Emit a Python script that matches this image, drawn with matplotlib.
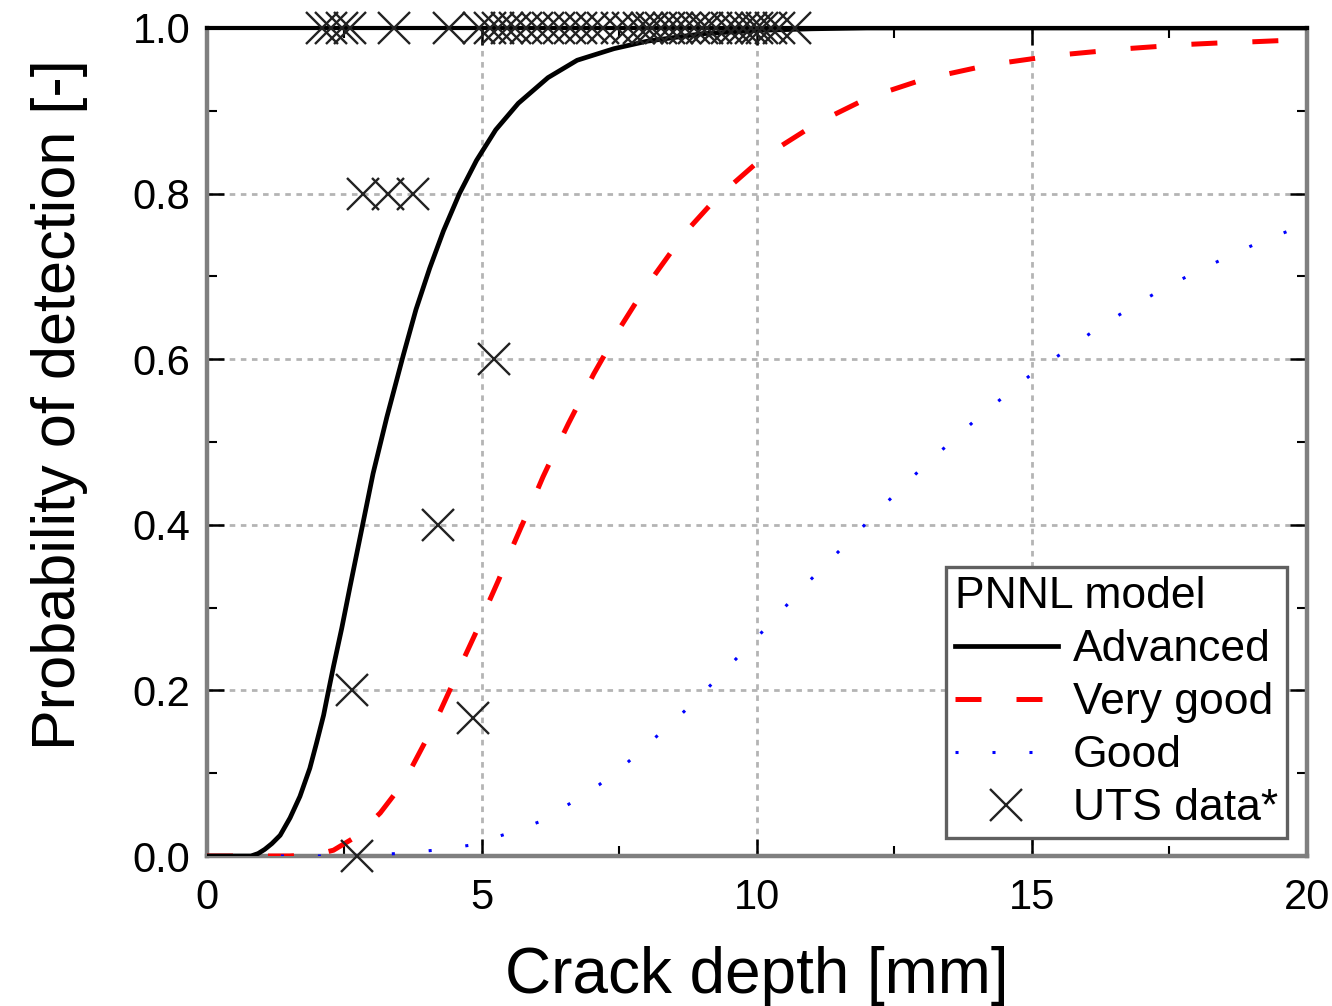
import matplotlib
matplotlib.use("Agg")
import matplotlib.pyplot as plt
from matplotlib.ticker import MultipleLocator

plt.rcParams['font.family'] = ['Liberation Sans', 'DejaVu Sans']

# ---- data ----
adv_x = [0, 0.8, 0.93, 1.05, 1.18, 1.33, 1.51, 1.69, 1.87, 1.99, 2.12, 2.18, 2.30,
         2.45, 2.6, 2.83, 3.02, 3.27, 3.57, 3.8, 4.05, 4.3, 4.59, 4.9, 5.25, 5.66,
         6.2, 6.73, 7.4, 8.0, 9.0, 10.0, 11.0, 12.0, 20.0]
adv_y = [0, 0.0, 0.003, 0.008, 0.015, 0.025, 0.046, 0.072, 0.106, 0.136, 0.17, 0.19, 0.229,
         0.275, 0.325, 0.40, 0.462, 0.53, 0.605, 0.66, 0.71, 0.755, 0.80, 0.84, 0.877, 0.909,
         0.94, 0.961, 0.975, 0.984, 0.993, 0.997, 0.999, 1.0, 1.0]

vg_x = [0, 1.5, 2.0, 2.3, 2.7, 3.15, 3.45, 3.73, 4.0, 4.22, 4.44, 4.66, 4.89, 5.08, 5.3,
        5.5, 5.71, 5.93, 6.11, 6.38, 6.57, 6.84, 7.03, 7.33, 7.51, 7.89, 8.12, 8.5, 8.75,
        9.16, 9.48, 9.96, 10.33, 10.9, 11.3, 11.88, 12.3, 12.94, 13.37, 14.06, 14.49,
        15.13, 15.6, 16.24, 16.72, 17.36, 17.79, 18.43, 18.91, 19.6, 20.0]
vg_y = [0, 0.0, 0.002, 0.007, 0.023, 0.052, 0.078, 0.108, 0.142, 0.172, 0.204, 0.237, 0.27,
        0.30, 0.333, 0.365, 0.397, 0.43, 0.458, 0.496, 0.522, 0.557, 0.582, 0.617, 0.638,
        0.678, 0.70, 0.735, 0.757, 0.787, 0.807, 0.835, 0.853, 0.877, 0.892, 0.911, 0.922,
        0.936, 0.943, 0.953, 0.958, 0.964, 0.968, 0.972, 0.975, 0.978, 0.98, 0.982, 0.983,
        0.985, 0.986]

good_x = [0, 2.5, 3.47, 4.14, 4.78, 5.41, 6.03, 6.59, 7.13, 7.63, 8.10, 8.59, 9.05, 9.5,
          9.96, 10.39, 10.83, 11.28, 11.74, 12.18, 12.63, 13.1, 13.58, 14.06, 14.57,
          15.05, 15.63, 16.16, 16.72, 17.3, 17.88, 18.47, 19.06, 19.67, 20.0]
good_y = [0, 0.0, 0.003, 0.007, 0.013, 0.026, 0.041, 0.063, 0.086, 0.112, 0.14, 0.169,
          0.199, 0.23, 0.261, 0.292, 0.324, 0.354, 0.385, 0.415, 0.445, 0.475, 0.503,
          0.532, 0.559, 0.585, 0.611, 0.636, 0.659, 0.682, 0.702, 0.721, 0.739, 0.755, 0.763]

uts_top_x = [2.1, 2.25, 2.45, 2.6, 3.4, 4.4, 4.95, 5.15, 5.3, 5.45, 5.6, 5.8, 6.0, 6.2,
             6.4, 6.6, 6.8, 7.0, 7.2, 7.45, 7.65, 7.85, 8.0, 8.1, 8.25, 8.4, 8.55, 8.7,
             8.85, 9.0, 9.1, 9.25, 9.45, 9.6, 9.75, 9.9, 10.0, 10.1, 10.25, 10.4, 10.7]
uts_top_y = [1.0] * len(uts_top_x)
uts_mid_x = [2.83, 3.29, 3.74, 5.21, 4.2, 2.63, 4.84, 2.72]
uts_mid_y = [0.8, 0.8, 0.8, 0.6, 0.4, 0.2, 0.167, 0.0]

xticks = [0, 5, 10, 15, 20]
yticks = [0.0, 0.2, 0.4, 0.6, 0.8, 1.0]

# ---- figure ----
fig = plt.figure(figsize=(13.32, 10.06), dpi=100)
ax = fig.add_axes([0.1554, 0.1491, 0.8258, 0.8231])

ax.plot(adv_x, adv_y, color='black', lw=3.4, label='Advanced', zorder=4)
ax.plot(vg_x, vg_y, color='#ff0000', lw=3.6, dashes=(5.2, 7.0), label='Very good', zorder=3)
ax.plot(good_x, good_y, color='#0000ff', lw=2.2, dashes=(1.0, 11.1), label='Good', zorder=3)
ax.plot(uts_top_x + uts_mid_x, uts_top_y + uts_mid_y, linestyle='none', marker='x',
        ms=23, mew=1.7, color='#222222', label='UTS data*', clip_on=False, zorder=5)

ax.set_xlim(0, 20)
ax.set_ylim(0, 1.0)
ax.set_xticks(xticks)
ax.set_yticks(yticks)
ax.set_xticklabels([str(v) for v in xticks])
ax.set_yticklabels(['%.1f' % v for v in yticks])
ax.xaxis.set_minor_locator(MultipleLocator(2.5))
ax.yaxis.set_minor_locator(MultipleLocator(0.1))
ax.tick_params(which='both', direction='in', top=True, right=True, colors='black')
ax.tick_params(which='major', length=12, width=1.8, labelsize=30, pad=12)
ax.tick_params(which='minor', length=7, width=1.5)
ax.tick_params(axis='x', which='major', pad=16)

ax.grid(True, which='major', color='#b4b4b4', lw=2.0, linestyle=(0, (2, 2)))
ax.set_axisbelow(True)

for side in ['left', 'bottom', 'right']:
    ax.spines[side].set_color('#7f7f7f')
    ax.spines[side].set_linewidth(3.2)
ax.spines['top'].set_color('black')
ax.spines['top'].set_linewidth(3.0)

ax.set_xlabel('Crack depth [mm]', fontsize=46, labelpad=20)
ax.set_ylabel('Probability of detection [-]', fontsize=44)
ax.yaxis.set_label_coords(-0.108, 0.545)

leg = ax.legend(title='PNNL model', loc='lower right', bbox_to_anchor=(0.982, 0.0217),
                borderaxespad=0, fontsize=32, title_fontsize=32, alignment='left',
                handlelength=2.3, handletextpad=0.35, labelspacing=0.27, borderpad=0.2,
                fancybox=False, framealpha=1, edgecolor='#606060')
leg.get_frame().set_linewidth(2.4)

fig.savefig('out.png', dpi=100)
